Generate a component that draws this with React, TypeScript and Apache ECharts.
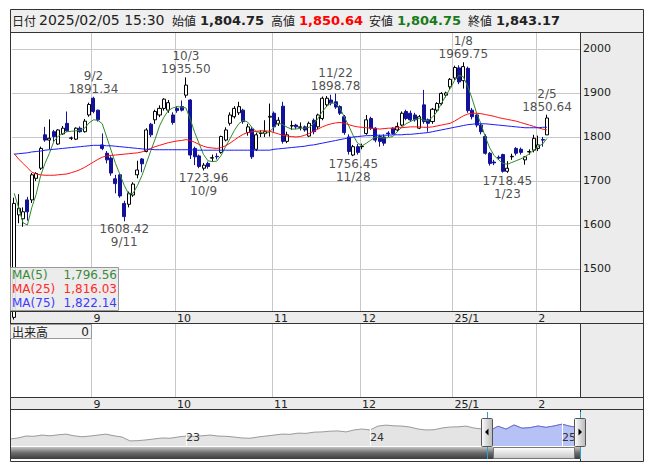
import { useEffect, useRef } from "react";
import * as echarts from "echarts";

// ---------- data ----------
const dates = [
  "2024/08/06","2024/08/07","2024/08/08","2024/08/09","2024/08/13","2024/08/14","2024/08/15","2024/08/16","2024/08/19","2024/08/20","2024/08/21","2024/08/22","2024/08/23","2024/08/26","2024/08/27","2024/08/28","2024/08/29","2024/08/30",
  "2024/09/02","2024/09/03","2024/09/04","2024/09/05","2024/09/06","2024/09/09","2024/09/10","2024/09/11","2024/09/12","2024/09/13","2024/09/17","2024/09/18","2024/09/19","2024/09/20","2024/09/24","2024/09/25","2024/09/26","2024/09/27","2024/09/30",
  "2024/10/01","2024/10/02","2024/10/03","2024/10/04","2024/10/07","2024/10/08","2024/10/09","2024/10/10","2024/10/11","2024/10/15","2024/10/16","2024/10/17","2024/10/18","2024/10/21","2024/10/22","2024/10/23","2024/10/24","2024/10/25","2024/10/28","2024/10/29","2024/10/30","2024/10/31",
  "2024/11/01","2024/11/05","2024/11/06","2024/11/07","2024/11/08","2024/11/11","2024/11/12","2024/11/13","2024/11/14","2024/11/15","2024/11/18","2024/11/19","2024/11/20","2024/11/21","2024/11/22","2024/11/25","2024/11/26","2024/11/27","2024/11/28","2024/11/29",
  "2024/12/02","2024/12/03","2024/12/04","2024/12/05","2024/12/06","2024/12/09","2024/12/10","2024/12/11","2024/12/12","2024/12/13","2024/12/16","2024/12/17","2024/12/18","2024/12/19","2024/12/20","2024/12/23","2024/12/24","2024/12/25","2024/12/26","2024/12/27","2024/12/30",
  "2025/01/06","2025/01/07","2025/01/08","2025/01/09","2025/01/10","2025/01/14","2025/01/15","2025/01/16","2025/01/17","2025/01/20","2025/01/21","2025/01/22","2025/01/23","2025/01/24","2025/01/27","2025/01/28","2025/01/29","2025/01/30","2025/01/31",
  "2025/02/03","2025/02/04","2025/02/05",
];

const opens = [
  1390,1623,1614,1657,1657,1706,1729,1805,1793,1812,1784,1807,1831,1797,1795,1820,1812,1850,
  1888,1861,1782,1763,1752,1705,1714,1649,1647,1668,1714,1750,1767,1829,1839,1850,1865,1861,1850,
  1865,1869,1895,1884,1774,1757,1729,1740,1752,1756,1765,1793,1831,1846,1855,1861,1810,1818,1772,1808,1808,1845,
  1854,1830,1870,1790,1825,1827,1822,1823,1802,1838,1823,1842,1873,1884,1880,1869,1846,1800,1759,1778,
  1778,1808,1842,1820,1801,1800,1809,1820,1816,1827,1858,1854,1850,1820,1873,1839,1835,1861,1876,1895,1914,
  1934,1957,1928,1956,1861,1850,1827,1801,1763,1743,1754,1760,1722,1755,1774,1772,1748,1766,1770,
  1774,1794,1804.75,
];
const highs = [
  1662,1670,1640,1664,1718,1720,1778,1823,1840,1816,1818,1825,1858,1801,1822,1824,1841,1878,
  1891.34,1862,1808,1768,1756,1714,1717,1655,1676,1697,1746,1752,1820,1832,1862,1872,1888,1884,1856,
  1870,1883,1935.5,1886,1778,1760,1741,1744,1760,1763,1803,1822,1856,1870,1880,1864,1830,1822,1810,1815,1838,1876,
  1858,1845,1880,1812,1837,1830,1833,1826,1835,1842,1853,1892,1893,1896,1898.78,1872,1850,1806,1782,1784,
  1785,1850,1846,1822,1805,1806,1813,1822,1833,1858,1862,1860,1855,1850,1907,1842,1866,1879,1902,1903,1934,
  1962,1963,1969.75,1960,1866,1852,1830,1806,1766,1748,1758,1762,1745,1762,1777,1776,1757,1772,1805,
  1803,1800,1850.64,
];
const lows = [
  1385,1604,1596,1610,1650,1700,1725,1789,1772,1789,1782,1805,1812,1793,1793,1810,1810,1846,
  1854,1835,1770,1740,1712,1672,1662,1608.42,1640,1664,1706,1720,1765,1800,1830,1845,1860,1855,1828,
  1855,1858,1889,1750,1736,1729,1723.96,1728,1744,1749,1762,1790,1826,1842,1850,1830,1803,1750,1768,1800,1800,1801,
  1812,1825,1785,1786,1816,1818,1815,1812,1800,1806,1818,1838,1868,1872,1864,1850,1805,1760,1756.45,1760,
  1772,1805,1816,1788,1778,1780,1800,1805,1812,1824,1838,1835,1835,1818,1830,1812,1830,1857,1872,1890,1908,
  1930,1920,1910,1855,1840,1822,1806,1760,1735,1736,1748,1719,1718.45,1748,1758,1760,1737,1760,1765,
  1768,1778,1804.75,
];
const closes = [
  1649,1638,1630,1630,1714,1717,1774,1793,1797,1801,1816,1820,1814,1798,1820,1812,1836,1874,
  1858,1839,1774,1748,1718,1694,1666,1619,1672,1693,1725,1739,1816,1805,1858,1865,1886,1878,1833,
  1860,1861,1918,1759,1755,1733,1736,1733,1753,1755,1801,1816,1850,1865,1869,1835,1823,1755,1805,1809,1812,1847,
  1823,1838,1790,1805,1826,1823,1823,1816,1831,1812,1850,1888,1888,1877,1868,1854,1810,1767,1778,1765,
  1779,1839,1820,1793,1790,1786,1807,1808,1824,1854,1842,1839,1839,1846,1835,1831,1863,1876,1899,1900,1931,
  1958,1925,1960,1860,1846,1827,1812,1763,1740,1741,1752,1722,1729,1756,1763,1765,1755,1767,1797,
  1782,1793,1843.17,
];

const ma5 = [
  1672,1640,1605,1600,1640,1670,1712,1740,1763,1790,1802,1808,1812,1813,1814,1816,1820,1832,
  1839,1838,1830,1800,1770,1740,1715,1690,1670,1672,1690,1712,1740,1768,1795,1825,1845,1860,1866,
  1869,1868,1866,1840,1810,1785,1760,1746,1744,1745,1758,1778,1796,1815,1830,1838,1834,1822,1812,1810,1807,1812,
  1822,1832,1828,1822,1818,1818,1820,1820,1822,1830,1842,1858,1870,1878,1876,1865,1845,1825,1803,1786,
  1780,1786,1793,1800,1799,1797,1799,1801,1812,1822,1830,1835,1840,1842,1838,1837,1845,1857,1876,1893,1910,
  1928,1940,1937,1915,1887,1855,1830,1800,1775,1758,1748,1740,1738,1742,1746,1750,1755,1762,1770,
  1778,1784,1796.56,
];
const ma25 = [
  1762,1750,1740,1730,1720,1716,1714,1713,1713,1713,1714,1715,1716,1719,1722,1726,1731,1737,
  1743,1749,1754,1757,1758,1759,1760,1761,1762,1763,1764,1766,1770,1774,1778,1781,1784,1787,1789,
  1791,1792,1794,1792,1788,1783,1779,1776,1775,1774,1776,1780,1786,1793,1800,1806,1810,1812,1813,1814,1814,1813,
  1810,1807,1804,1802,1801,1800,1801,1804,1808,1813,1818,1823,1827,1830,1832,1833,1831,1828,1825,1823,
  1822,1821,1820,1819,1818,1819,1820,1820,1821,1821,1822,1823,1823,1823,1822,1822,1823,1825,1827,1829,1831,
  1836,1842,1848,1852,1854,1854,1853,1851,1849,1847,1844,1842,1840,1838,1836,1833,1830,1827,1824,
  1821,1818,1816.03,
];
const ma75 = [
  1761,1762,1763,1764,1766,1767,1768,1770,1771,1772,1773,1774,1775,1776,1777,1778,1779,1780,
  1781,1781,1781,1780,1780,1779,1778,1777,1776,1775,1774,1773,1772,1772,1771,1771,1771,1771,1771,
  1771,1771,1771,1771,1770,1770,1770,1770,1770,1770,1770,1770,1770,1770,1770,1770,1770,1770,1770,1770,1770,1770,
  1772,1773,1774,1775,1776,1777,1778,1779,1781,1782,1784,1786,1788,1790,1792,1794,1796,1798,1800,1801,
  1802,1803,1803,1804,1804,1804,1804,1805,1805,1805,1806,1806,1807,1808,1809,1810,1812,1814,1816,1818,1820,
  1822,1824,1826,1828,1829,1830,1830,1830,1829,1828,1827,1826,1825,1824,1823,1822,1821,1821,1821,
  1821,1822,1822.14,
];

const highMarks = ["2024/09/02", "2024/10/03", "2024/11/22", "2025/01/08", "2025/02/05"];
const lowMarks = ["2024/09/11", "2024/10/09", "2024/11/28", "2025/01/23"];

const lastTime = "15:30";
const lastVolume = 0;
const blankDays = 7;

// navigator (about 2 weeks per point, 2022 -> 2025)
const navValues = [
  1290,1330,1410,1400,1450,1420,1460,1490,1420,1380,1410,1450,1490,1420,1370,
  1210,1220,1250,1290,1330,1320,1370,1410,1400,1420,1450,1410,1400,1370,1330,
  1320,1370,1410,1450,1490,1480,1530,1520,1570,1580,1610,1620,1580,1660,1700,
  1660,1820,1860,1830,1820,1780,1700,1660,1670,1740,1780,1790,1820,1740,1700,
  1630,1814,1694,1865,1733,1755,1823,1767,1824,1900,1812,1767,
];
const navYearStart = [22, 45, 69];
const navYearNames = ["23", "24", "25"];
const navSelStart = 60;

// ---------- derived ----------
const UP_BORDER = "#000000";
const DOWN = "#11119a";
const GRID = "#c8c8c8";
const BAND = "#ececec";
const BORDER = "#333333";
const C_MA5 = "#2e8b2e";
const C_MA25 = "#ff1010";
const C_MA75 = "#1a1aff";
const FONT = "DejaVu Sans";
const JFONT = "Noto Sans CJK JP";

const cats = dates.concat(Array.from({ length: blankDays }, (_, k) => `blank${k}`));
const monthLabel = cats.map((d, i) => {
  if (i === 0 || i >= dates.length) return "";
  const [y, m] = d.split("/");
  const pm = dates[i - 1].split("/")[1];
  if (m === pm) return "";
  return +m === 1 ? `${y.slice(2)}/1` : String(+m);
});
const isMonthStart = (i: number) => monthLabel[i] !== "" && monthLabel[i] !== undefined;

const shortDate = (d: string) => {
  const [, m, dd] = d.split("/");
  return `${+m}/${+dd}`;
};
const fmt = (v: number) =>
  v.toLocaleString("en-US", { minimumFractionDigits: 2, maximumFractionDigits: 2 });

const candleData = dates.map((_, i) => [opens[i], closes[i], lows[i], highs[i]]);
const highData = highMarks.map((d) => {
  const i = dates.indexOf(d);
  return { name: shortDate(d), value: [i, highs[i]] };
});
const lowData = lowMarks.map((d) => {
  const i = dates.indexOf(d);
  return { name: shortDate(d), value: [i, lows[i]] };
});

const navCats = navValues.map((_, j) => `n${j}`);
const navLabel = navValues.map((_, j) => {
  const k = navYearStart.indexOf(j);
  return k >= 0 ? navYearNames[k] : "";
});
const navSel = navValues.map((v, j) => (j >= navSelStart ? v : null));

const last = dates.length - 1;

// ---------- graphic helpers (layout only) ----------
const hline = (x1: number, x2: number, y: number, color = BORDER, z = 50) => ({
  type: "line", z, silent: true,
  shape: { x1, y1: y, x2, y2: y },
  style: { stroke: color, lineWidth: 1 },
});
const vline = (x: number, y1: number, y2: number, color = BORDER, z = 50) => ({
  type: "line", z, silent: true,
  shape: { x1: x, y1, x2: x, y2 },
  style: { stroke: color, lineWidth: 1 },
});
const txt = (
  x: number, y: number, text: string, font: string, fill: string,
  align: string = "left", z = 100
) => ({
  type: "text", z, silent: true, x, y,
  style: {
    text, font, fill,
    align, verticalAlign: "middle",
    textAlign: align, textVerticalAlign: "middle",
  },
});

export default function App() {
  const ref = useRef<HTMLDivElement>(null);

  useEffect(() => {
    if (!ref.current) return;
    const chart = echarts.init(ref.current, null, { renderer: "svg" });

    const monthAxis = (gridIndex: number) => ({
      gridIndex,
      type: "category",
      data: cats,
      boundaryGap: true,
      axisLine: { show: false },
      axisTick: { show: false },
      axisLabel: {
        interval: (i: number) => isMonthStart(i),
        formatter: (_v: string, i: number) => monthLabel[i] || "",
        align: "left",
        margin: 2,
        fontSize: 11,
        fontFamily: FONT,
        color: "#222",
      },
      splitLine: {
        show: true,
        interval: (i: number) => isMonthStart(i),
        lineStyle: { color: GRID, width: 1 },
      },
    });

    const header = [
      txt(12, 20, "日付", `12px "${JFONT}"`, "#222"),
      txt(39, 20, `${dates[last]} ${lastTime}`, `14px "${FONT}"`, "#222"),
      txt(172, 20, "始値", `12px "${JFONT}"`, "#222"),
      txt(200, 20, fmt(opens[last]), `bold 13px "${FONT}"`, "#222"),
      txt(271, 20, "高値", `12px "${JFONT}"`, "#222"),
      txt(299, 20, fmt(highs[last]), `bold 13px "${FONT}"`, "#ff0000"),
      txt(369, 20, "安値", `12px "${JFONT}"`, "#222"),
      txt(397, 20, fmt(lows[last]), `bold 13px "${FONT}"`, "#1a7a1a"),
      txt(468, 20, "終値", `12px "${JFONT}"`, "#222"),
      txt(496, 20, fmt(closes[last]), `bold 13px "${FONT}"`, "#222"),
    ];

    const legend = [
      { type: "rect", z: 90, silent: true, shape: { x: 10.5, y: 267.5, width: 108, height: 43 },
        style: { fill: "rgba(234,234,234,0.92)", stroke: "#999" } },
      txt(12, 275, "MA(5)", `12px "${FONT}"`, "#3a8a3a"),
      txt(117, 275, fmt(ma5[last]), `12px "${FONT}"`, "#3a8a3a", "right"),
      txt(12, 289, "MA(25)", `12px "${FONT}"`, "#ff2a2a"),
      txt(117, 289, fmt(ma25[last]), `12px "${FONT}"`, "#ff2a2a", "right"),
      txt(12, 303, "MA(75)", `12px "${FONT}"`, "#3c3cff"),
      txt(117, 303, fmt(ma75[last]), `12px "${FONT}"`, "#3c3cff", "right"),
      { type: "rect", z: 90, silent: true, shape: { x: 10.5, y: 324.5, width: 81, height: 14 },
        style: { fill: "#f2f2f2", stroke: "#999" } },
      txt(12, 331.5, "出来高", `12px "${JFONT}"`, "#222"),
      txt(89, 331.5, String(lastVolume), `12px "${FONT}"`, "#222", "right"),
    ];

    const handle = (cx: number, dir: number) => [
      vline(cx + 0.5, 412, 459, "#2aa0d8", 95),
      { type: "rect", z: 96, silent: true, shape: { x: cx - 5.5, y: 418.5, width: 11, height: 28, r: 1 },
        style: {
          fill: { type: "linear", x: 0, y: 0, x2: 1, y2: 0,
            colorStops: [{ offset: 0, color: "#fdfdfd" }, { offset: 1, color: "#b8b8b8" }] },
          stroke: "#555",
        } },
      { type: "polygon", z: 97, silent: true,
        shape: { points: dir < 0
          ? [[cx - 2, 432], [cx + 1.5, 428.5], [cx + 1.5, 435.5]]
          : [[cx + 2, 432], [cx - 1.5, 428.5], [cx - 1.5, 435.5]] },
        style: { fill: "#000" } },
    ];

    const graphics = [
      // backgrounds
      { type: "rect", z: -10, silent: true, shape: { x: 10, y: 9, width: 634, height: 23 }, style: { fill: "#efefef" } },
      { type: "rect", z: -10, silent: true, shape: { x: 580, y: 32, width: 64, height: 430 }, style: { fill: BAND } },
      { type: "rect", z: -10, silent: true, shape: { x: 10, y: 311, width: 634, height: 13 }, style: { fill: BAND } },
      { type: "rect", z: -10, silent: true, shape: { x: 10, y: 397, width: 634, height: 13 }, style: { fill: BAND } },
      // borders
      { type: "rect", z: 60, silent: true, shape: { x: 10.5, y: 9.5, width: 633, height: 452 },
        style: { fill: "none", stroke: BORDER, lineWidth: 1 } },
      hline(10, 644, 32.5),
      hline(10, 644, 311.5),
      hline(10, 644, 323.5),
      hline(10, 644, 397.5),
      hline(10, 644, 409.5),
      vline(580.5, 32, 311),
      vline(580.5, 324, 397),
      vline(580.5, 410, 462),
      // scrollbar
      { type: "rect", z: 80, silent: true, shape: { x: 11, y: 447, width: 569, height: 12 },
        style: { fill: { type: "linear", x: 0, y: 0, x2: 0, y2: 1,
          colorStops: [{ offset: 0, color: "#c4c4c4" }, { offset: 0.5, color: "#6a6a6a" }, { offset: 1, color: "#3c3c3c" }] } } },
      { type: "rect", z: 81, silent: true, shape: { x: 493.5, y: 447.5, width: 81, height: 11 },
        style: { fill: { type: "linear", x: 0, y: 0, x2: 0, y2: 1,
          colorStops: [{ offset: 0, color: "#ffffff" }, { offset: 1, color: "#c6c6c6" }] }, stroke: "#777" } },
      ...handle(487, -1),
      ...handle(580, 1),
      ...header,
      ...legend,
    ];

    const option: any = {
      animation: false,
      backgroundColor: "#ffffff",
      textStyle: { fontFamily: FONT },
      grid: [
        { left: 12, top: 32, width: 568, height: 279 },
        { left: 12, top: 324, width: 568, height: 73 },
        { left: 10, top: 412, width: 568, height: 34 },
      ],
      xAxis: [
        monthAxis(0),
        monthAxis(1),
        {
          gridIndex: 2,
          type: "category",
          data: navCats,
          boundaryGap: false,
          z: 10,
          axisLine: { show: false },
          axisTick: { show: false },
          axisLabel: {
            inside: true,
            interval: (j: number) => navLabel[j] !== "",
            formatter: (_v: string, j: number) => navLabel[j] || "",
            align: "left",
            margin: 3,
            fontSize: 11,
            fontFamily: FONT,
            color: "#333",
          },
          splitLine: {
            show: true,
            interval: (j: number) => navLabel[j] !== "",
            lineStyle: { color: "#ffffff", width: 1 },
          },
        },
      ],
      yAxis: [
        {
          gridIndex: 0,
          type: "value",
          position: "right",
          min: 1404.5,
          max: 2038.6,
          splitNumber: 6,
          axisLine: { show: false },
          axisTick: { show: false },
          axisLabel: {
            showMinLabel: false,
            showMaxLabel: false,
            formatter: (v: number) => String(Math.round(v)),
            margin: 3,
            fontSize: 11,
            fontFamily: FONT,
            color: "#222",
          },
          splitLine: { show: true, lineStyle: { color: GRID, width: 1 } },
        },
        { gridIndex: 1, type: "value", min: 0, max: 1, show: false },
        { gridIndex: 2, type: "value", min: 1000, max: 2400, show: false },
      ],
      series: [
        {
          name: "price",
          type: "candlestick",
          xAxisIndex: 0,
          yAxisIndex: 0,
          data: candleData,
          barWidth: "80%",
          z: 2,
          itemStyle: {
            color: "#ffffff",
            color0: DOWN,
            borderColor: UP_BORDER,
            borderColor0: DOWN,
            borderWidth: 1,
          },
        },
        {
          name: "MA(5)", type: "line", xAxisIndex: 0, yAxisIndex: 0, data: ma5,
          symbol: "none", showSymbol: false, z: 3, silent: true,
          lineStyle: { color: C_MA5, width: 1 }, itemStyle: { color: C_MA5 },
        },
        {
          name: "MA(25)", type: "line", xAxisIndex: 0, yAxisIndex: 0, data: ma25,
          symbol: "none", showSymbol: false, z: 3, silent: true,
          lineStyle: { color: C_MA25, width: 1 }, itemStyle: { color: C_MA25 },
        },
        {
          name: "MA(75)", type: "line", xAxisIndex: 0, yAxisIndex: 0, data: ma75,
          symbol: "none", showSymbol: false, z: 3, silent: true,
          lineStyle: { color: C_MA75, width: 1 }, itemStyle: { color: C_MA75 },
        },
        {
          name: "highs", type: "scatter", xAxisIndex: 0, yAxisIndex: 0, data: highData,
          symbolSize: 1, itemStyle: { color: "rgba(0,0,0,0)" }, z: 5, silent: true,
          label: {
            show: true, position: "top", distance: 1,
            formatter: (p: any) => `${p.name}\n${p.value[1].toFixed(2)}`,
            fontSize: 12, lineHeight: 13, fontFamily: FONT, color: "#222",
          },
        },
        {
          name: "lows", type: "scatter", xAxisIndex: 0, yAxisIndex: 0, data: lowData,
          symbolSize: 1, itemStyle: { color: "rgba(0,0,0,0)" }, z: 5, silent: true,
          label: {
            show: true, position: "bottom", distance: 1,
            formatter: (p: any) => `${p.value[1].toFixed(2)}\n${p.name}`,
            fontSize: 12, lineHeight: 13, fontFamily: FONT, color: "#222",
          },
        },
        {
          name: "nav", type: "line", xAxisIndex: 2, yAxisIndex: 2, data: navValues,
          symbol: "none", showSymbol: false, silent: true, z: 2,
          lineStyle: { color: "#9a9a9a", width: 1 },
          areaStyle: { color: "#e4e4e4", opacity: 1 },
        },
        {
          name: "navSel", type: "line", xAxisIndex: 2, yAxisIndex: 2, data: navSel,
          symbol: "none", showSymbol: false, silent: true, z: 3,
          lineStyle: { color: "#6a6ad8", width: 1 },
          areaStyle: { color: "#b6c1f6", opacity: 1 },
        },
      ],
      graphic: { elements: graphics },
    };

    chart.setOption(option);
    return () => chart.dispose();
  }, []);

  return (
    <div
      ref={ref}
      style={{ position: "fixed", left: 0, top: 0, width: 653, height: 470, background: "#fff" }}
    />
  );
}
